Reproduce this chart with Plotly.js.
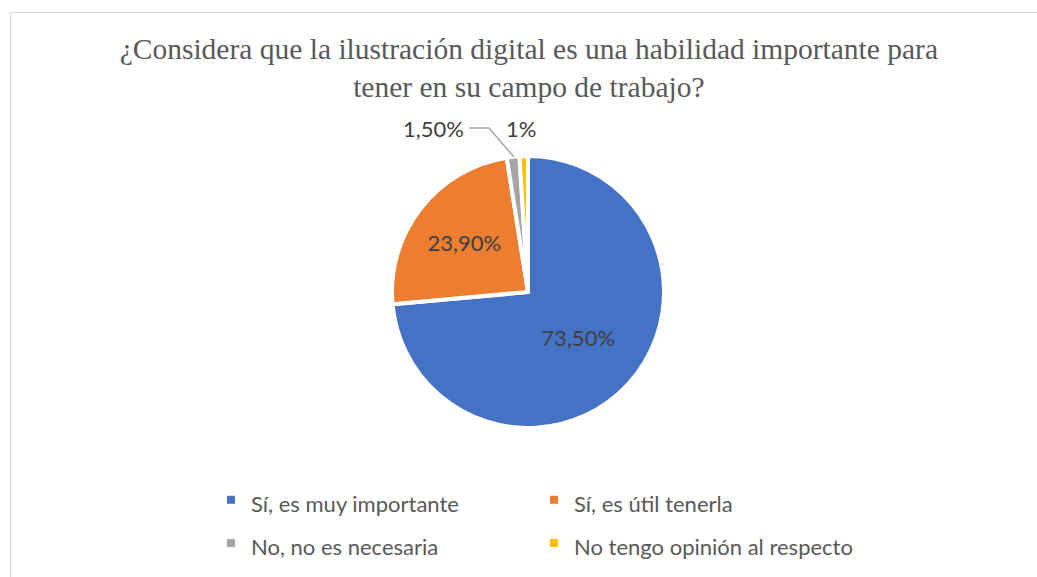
<!DOCTYPE html>
<html><head><meta charset="utf-8">
<script src="https://cdn.plot.ly/plotly-3.0.1.min.js"></script>
<style>body{margin:0;background:#fff}#chart{width:1037px;height:577px}</style>
</head><body><div id="chart"></div>
<script>
const categories = ['Sí, es muy importante', 'Sí, es útil tenerla', 'No, no es necesaria', 'No tengo opinión al respecto'];
const values = [73.5, 23.9, 1.5, 1];
const valueLabels = ['73,50%', '23,90%', '1,50%', '1%'];
const colors = ['#4472C4', '#ED7D31', '#A5A5A5', '#FFC000'];
const titleText = '¿Considera que la ilustración digital es una habilidad importante para<br>tener en su campo de trabajo?';

const W = 1037, H = 577, R = 150;
const PW = W - R;
const px = x => x / PW;
const py = y => 1 - y / H;

const legendLabels = categories.map(c => '<span style="font-size:22px">' + c + '</span>');
const labelFont = {family: 'Lato, sans-serif', size: 22, color: '#404040'};

const trace = {
  type: 'pie', labels: legendLabels, values: values, text: valueLabels,
  textinfo: 'text', sort: false, direction: 'clockwise', rotation: 0,
  marker: {colors: colors, line: {color: '#ffffff', width: 4}},
  textposition: ['inside', 'inside', 'none', 'none'],
  insidetextorientation: 'horizontal',
  textfont: labelFont,
  domain: {x: [px(392), px(664)], y: [py(428), py(156)]},
  hoverinfo: 'none'
};

const layout = {
  width: W, height: H,
  margin: {l: 0, r: R, t: 0, b: 0, autoexpand: false},
  paper_bgcolor: '#ffffff', plot_bgcolor: '#ffffff',
  title: {text: titleText, font: {family: 'Liberation Serif, serif', size: 29.5, color: '#595959'},
          x: 0.51, xanchor: 'center', xref: 'container', y: 0.898, yanchor: 'top', yref: 'container'},
  showlegend: true,
  legend: {orientation: 'h', x: px(211), xanchor: 'left', y: py(473), yanchor: 'top',
           entrywidth: 278, entrywidthmode: 'pixels',
           font: {family: 'Lato, sans-serif', size: 31, color: '#595959'}},
  annotations: [
    {text: valueLabels[2], xref: 'paper', yref: 'paper', x: px(433), y: py(128), xanchor: 'center', yanchor: 'middle', showarrow: false, font: labelFont},
    {text: valueLabels[3], xref: 'paper', yref: 'paper', x: px(521), y: py(128), xanchor: 'center', yanchor: 'middle', showarrow: false, font: labelFont}
  ],
  shapes: [
    {type: 'rect', xref: 'paper', yref: 'paper', x0: px(10.5), x1: px(W + 10), y0: -0.01, y1: py(12.5),
     line: {color: '#d9d9d9', width: 1}, fillcolor: 'rgba(0,0,0,0)'},
    {type: 'path', xref: 'paper', yref: 'paper',
     path: 'M ' + px(469) + ',' + py(128) + ' L ' + px(489) + ',' + py(128) + ' L ' + px(514) + ',' + py(157),
     line: {color: '#A6A6A6', width: 1.5}}
  ]
};

Plotly.newPlot('chart', [trace], layout, {displayModeBar: false, staticPlot: true});
</script>
</body></html>
